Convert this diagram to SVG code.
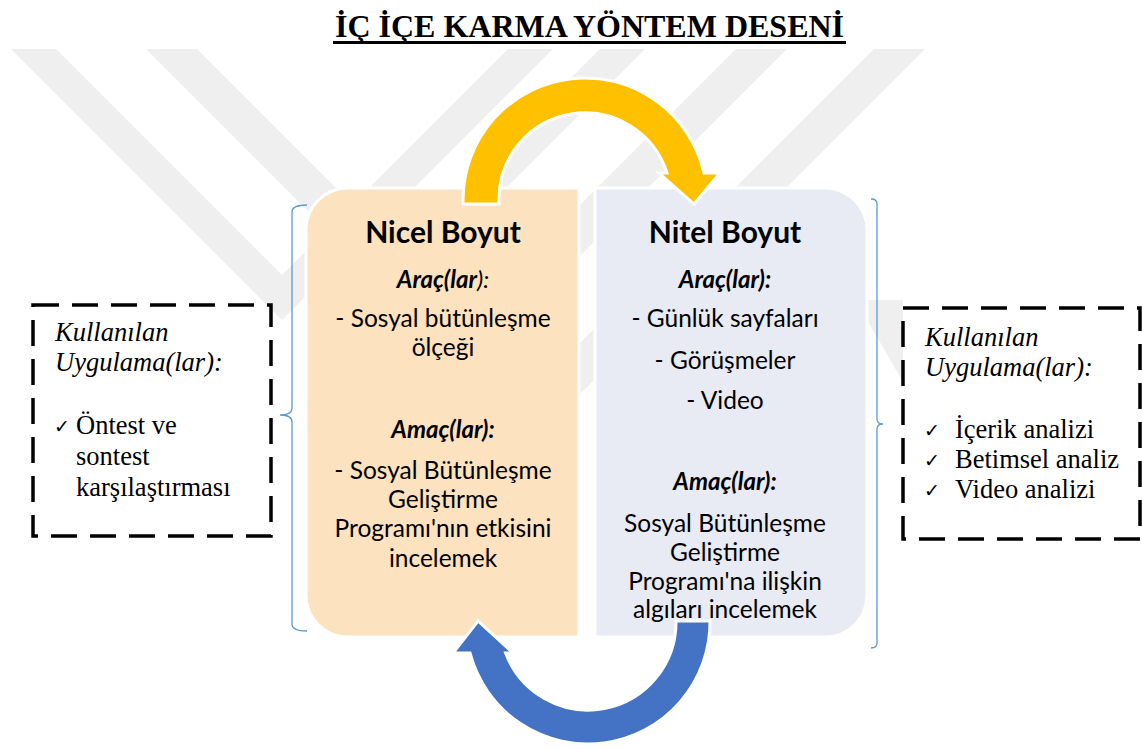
<svg xmlns="http://www.w3.org/2000/svg" width="1142" height="749" viewBox="0 0 1142 749">
<style>
.wm{fill:#efefef}
.bt{font-family:Lato,'Open Sans',sans-serif;fill:#000;text-anchor:middle}
.h{font-weight:700;font-size:30px}
.sub{font-weight:700;font-style:italic;font-size:24px}
.body{font-size:24.5px}
.serif{font-family:'Liberation Serif','Times New Roman',serif;font-size:26.5px;fill:#000}
.it{font-style:italic}
.chk{font-family:'DejaVu Sans',sans-serif;font-size:19px;fill:#000}
.dash{fill:#fff;stroke:#000;stroke-width:3.5;stroke-dasharray:26 13}
.brace{fill:none;stroke:#5B9BD5;stroke-width:1.3}
.arrow{stroke:#fff;stroke-width:3;stroke-linejoin:miter}
</style>
<rect width="1142" height="749" fill="#fff"/>
<g id="watermark">
<path class="wm" d="M11,49 L56,49 L282,275 L508,49 L553,49 L282,320 Z"/>
<path class="wm" d="M146,49 L197,49 L398.5,250.5 L600,49 L645,49 L395.5,298.5 Z"/>
<path class="wm" d="M736,49 L787,49 L436,400 L385,400 Z"/>
<path class="wm" d="M874,49 L925,49 L574,400 L523,400 Z"/>
<path class="wm" d="M866,300 L903,300 L903,382 L866,318 Z"/>
</g>
<g id="title">
<text x="589.5" y="37" font-family="'Liberation Serif','Times New Roman',serif" font-weight="700" font-size="32" text-anchor="middle" fill="#000">İÇ İÇE KARMA YÖNTEM DESENİ</text>
<rect x="333" y="41" width="513" height="3" fill="#000"/>
</g>
<g id="brace-left">
<path class="brace" d="M307,205 Q292,205 292,212 L292,408 Q292,415 280,415 Q292,415 292,422 L292,624 Q292,631 307,631"/>
</g>
<g id="brace-right">
<path class="brace" d="M871,199 Q877,199 877,204 L877,419 Q877,424 883,424 Q877,424 877,429 L877,643 Q877,648 871,648"/>
</g>
<g id="nicel">
<path d="M579,188 L348,188 A42,42 0 0 0 306,230 L306,595 A42,42 0 0 0 348,637 L579,637 Z" fill="#FCE2BE" stroke="#fff" stroke-width="3"/>
<text class="bt h" x="443" y="243">Nicel Boyut</text>
<text class="bt sub" x="443" y="288">Araç(lar<tspan font-weight="400">):</tspan></text>
<text class="bt body" x="443" y="327">- Sosyal bütünleşme</text>
<text class="bt body" x="443" y="356">ölçeği</text>
<text class="bt sub" x="443" y="438">Amaç(lar):</text>
<text class="bt body" x="443" y="479">- Sosyal Bütünleşme</text>
<text class="bt body" x="443" y="508">Geliştirme</text>
<text class="bt body" x="443" y="537">Programı'nın etkisini</text>
<text class="bt body" x="443" y="567">incelemek</text>
</g>
<g id="nitel">
<path d="M595,188 L825,188 A42,42 0 0 1 867,230 L867,595 A42,42 0 0 1 825,637 L595,637 Z" fill="#E8EAF4" stroke="#fff" stroke-width="3"/>
<text class="bt h" x="725" y="243">Nitel Boyut</text>
<text class="bt sub" x="725" y="288">Araç(lar):</text>
<text class="bt body" x="725" y="327">- Günlük sayfaları</text>
<text class="bt body" x="725" y="369">- Görüşmeler</text>
<text class="bt body" x="725" y="409">- Video</text>
<text class="bt sub" x="725" y="490">Amaç(lar):</text>
<text class="bt body" x="725" y="532">Sosyal Bütünleşme</text>
<text class="bt body" x="725" y="561">Geliştirme</text>
<text class="bt body" x="725" y="590">Programı'na ilişkin</text>
<text class="bt body" x="725" y="618">algıları incelemek</text>
</g>
<g id="uygulama-nicel">
<rect class="dash" x="33" y="305" width="238" height="231"/>
<text class="serif it" x="55" y="341">Kullanılan</text>
<text class="serif it" x="55" y="371">Uygulama(lar):</text>
<text class="chk" x="54" y="433">✓</text>
<text class="serif" x="76" y="434">Öntest ve</text>
<text class="serif" x="76" y="465">sontest</text>
<text class="serif" x="76" y="496">karşılaştırması</text>
</g>
<g id="uygulama-nitel">
<rect class="dash" x="903" y="308" width="237" height="231"/>
<text class="serif it" x="925" y="346">Kullanılan</text>
<text class="serif it" x="925" y="376">Uygulama(lar):</text>
<text class="chk" x="924" y="437">✓</text>
<text class="serif" x="955" y="438">İçerik analizi</text>
<text class="chk" x="924" y="467">✓</text>
<text class="serif" x="955" y="468">Betimsel analiz</text>
<text class="chk" x="924" y="497">✓</text>
<text class="serif" x="955" y="498">Video analizi</text>
</g>
<g id="connectors">
<path class="arrow" fill="#FFC000" d="M463,204 L463,200 A122,122 0 0 1 704,173 L720,173 L694,204 L659,173 L667,173 A86,86 0 0 0 499,200 L499,204 Z"/>
<path class="arrow" fill="#4472C4" d="M710,621 A122,122 0 0 1 470,653 L453,653 L478,621 L513,653 L505.6,653 A88,88 0 0 0 676,621 Z"/>
</g>
</svg>
